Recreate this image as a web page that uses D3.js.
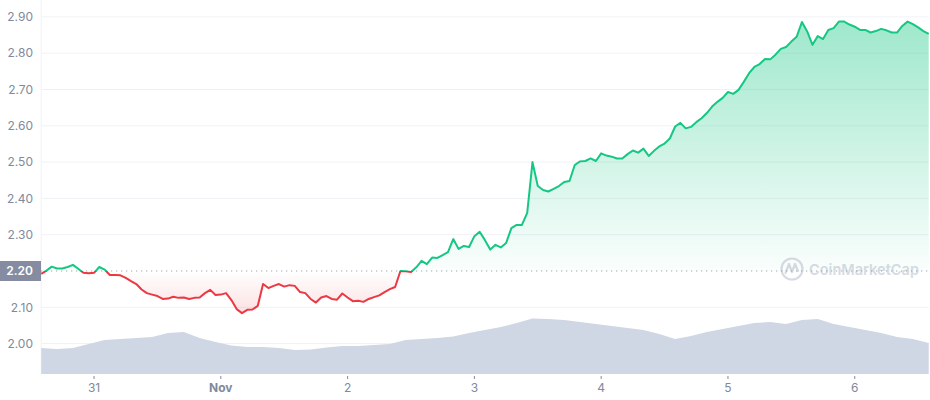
<!DOCTYPE html>
<html>
<head>
<meta charset="utf-8">
<script src="https://cdn.jsdelivr.net/npm/d3@7"></script>
<style>
  body { margin: 0; background: #fff; }
  svg { display: block; font-family: Inter, "Liberation Sans", Arial, sans-serif; }
</style>
</head>
<body>
<div class="chart"></div>
<script>
// price chart, hourly closes from Oct 30 14:00 to Nov 6 14:00
var w = 930, h = 400;

var startTime = new Date(2021, 9, 30, 14);
var baseline = 2.20;

var prices = [
  2.192, 2.201, 2.212, 2.207, 2.207, 2.211, 2.217, 2.206, 2.195, 2.194,
  2.195, 2.211, 2.204, 2.189, 2.189, 2.188, 2.181, 2.172, 2.164, 2.149,
  2.139, 2.135, 2.131, 2.123, 2.124, 2.129, 2.126, 2.127, 2.123, 2.126,
  2.127, 2.139, 2.148, 2.134, 2.135, 2.139, 2.120, 2.095, 2.084, 2.093,
  2.094, 2.104, 2.164, 2.153, 2.159, 2.164, 2.157, 2.161, 2.159, 2.142,
  2.139, 2.123, 2.113, 2.127, 2.131, 2.123, 2.121, 2.138, 2.127, 2.117,
  2.118, 2.115, 2.123, 2.128, 2.133, 2.142, 2.150, 2.156, 2.200, 2.199,
  2.197, 2.210, 2.228, 2.219, 2.237, 2.236, 2.244, 2.252, 2.288, 2.261,
  2.269, 2.266, 2.296, 2.308, 2.285, 2.259, 2.272, 2.265, 2.277, 2.318,
  2.327, 2.327, 2.360, 2.500, 2.434, 2.423, 2.419, 2.426, 2.434, 2.445,
  2.448, 2.492, 2.502, 2.503, 2.510, 2.503, 2.524, 2.518, 2.515, 2.510,
  2.510, 2.522, 2.532, 2.526, 2.537, 2.517, 2.531, 2.543, 2.551, 2.565,
  2.598, 2.608, 2.593, 2.597, 2.610, 2.621, 2.635, 2.653, 2.666, 2.677,
  2.693, 2.688, 2.699, 2.721, 2.745, 2.762, 2.770, 2.784, 2.783, 2.796,
  2.812, 2.817, 2.832, 2.845, 2.886, 2.860, 2.823, 2.847, 2.839, 2.864,
  2.869, 2.887, 2.887, 2.879, 2.873, 2.864, 2.864, 2.857, 2.861, 2.867,
  2.863, 2.857, 2.857, 2.875, 2.887, 2.880, 2.871, 2.861, 2.853
];

// volume every 3 hours (millions)
var volumes = [
  260, 250, 260, 300, 340, 350, 360, 370, 410, 420,
  360, 320, 285, 270, 270, 260, 240, 245, 265, 280,
  280, 290, 300, 340, 350, 360, 375, 410, 440, 470,
  510, 555, 550, 540, 520, 500, 480, 460, 440, 400,
  350, 380, 420, 450, 480, 510, 520, 500, 540, 550,
  500, 470, 440, 410, 370, 350, 310
];

var yTicks = [2.00, 2.10, 2.20, 2.30, 2.40, 2.50, 2.60, 2.70, 2.80, 2.90];
var xTicks = [
  new Date(2021, 9, 31), new Date(2021, 10, 1), new Date(2021, 10, 2),
  new Date(2021, 10, 3), new Date(2021, 10, 4), new Date(2021, 10, 5),
  new Date(2021, 10, 6)
];

var priceData = prices.map(function(p, i) {
  return { t: d3.timeHour.offset(startTime, i), v: p };
});
var volData = volumes.map(function(v, i) {
  return { t: d3.timeHour.offset(startTime, i * 3), v: v };
});

var left = 41.2, right = 928.7, bottom = 374;

var x = d3.scaleTime()
  .domain([startTime, d3.timeHour.offset(startTime, 168)])
  .range([left, right]);
var y = d3.scaleLinear().domain([2.0, 2.9]).range([343.6, 16.9]);
var yVol = d3.scaleLinear().domain([0, 1000]).range([bottom, bottom - 100]);

var svg = d3.select('.chart').append('svg')
  .attr('width', w)
  .attr('height', h);

var defs = svg.append('defs');

var gGreen = defs.append('linearGradient')
  .attr('id', 'gradGreen')
  .attr('gradientUnits', 'userSpaceOnUse')
  .attr('x1', 0).attr('x2', 0)
  .attr('y1', y(2.9)).attr('y2', y(baseline));
gGreen.append('stop').attr('offset', 0).attr('stop-color', '#16c784').attr('stop-opacity', 0.42);
gGreen.append('stop').attr('offset', 1).attr('stop-color', '#16c784').attr('stop-opacity', 0.02);

var gRed = defs.append('linearGradient')
  .attr('id', 'gradRed')
  .attr('gradientUnits', 'userSpaceOnUse')
  .attr('x1', 0).attr('x2', 0)
  .attr('y1', y(baseline)).attr('y2', y(2.08));
gRed.append('stop').attr('offset', 0).attr('stop-color', '#ea3943').attr('stop-opacity', 0.0);
gRed.append('stop').attr('offset', 1).attr('stop-color', '#ea3943').attr('stop-opacity', 0.16);

defs.append('clipPath').attr('id', 'clipAbove')
  .append('rect')
  .attr('x', 0).attr('y', 0)
  .attr('width', w).attr('height', y(baseline));
defs.append('clipPath').attr('id', 'clipBelow')
  .append('rect')
  .attr('x', 0).attr('y', y(baseline))
  .attr('width', w).attr('height', h - y(baseline));

// grid
svg.append('g')
  .selectAll('line')
  .data(yTicks.filter(function(d) { return d != baseline; }))
  .enter().append('line')
  .attr('x1', left).attr('x2', right)
  .attr('y1', function(d) { return y(d); })
  .attr('y2', function(d) { return y(d); })
  .attr('stroke', '#eff2f5')
  .attr('stroke-width', 1);

svg.append('line')
  .attr('x1', left).attr('x2', left)
  .attr('y1', 0).attr('y2', bottom)
  .attr('stroke', '#eff2f5');

// volume
svg.append('path')
  .datum(volData)
  .attr('fill', '#cfd6e4')
  .attr('d', d3.area()
    .x(function(d) { return x(d.t); })
    .y0(bottom)
    .y1(function(d) { return yVol(d.v); }));

// watermark
var wm = svg.append('g').attr('transform', 'translate(792,269)').attr('opacity', 0.9);
wm.append('circle').attr('r', 10.5).attr('fill', 'none').attr('stroke', '#d3d8e0').attr('stroke-width', 2.2);
wm.append('path')
  .attr('d', 'M-6.5,4 L-3,-5 L0,3 L3,-5 L6,2')
  .attr('fill', 'none').attr('stroke', '#d3d8e0').attr('stroke-width', 2.2)
  .attr('stroke-linejoin', 'round').attr('stroke-linecap', 'round');
wm.append('text')
  .attr('x', 17).attr('y', 5.5)
  .attr('font-size', 15)
  .attr('font-weight', 600)
  .attr('textLength', 110)
  .attr('lengthAdjust', 'spacingAndGlyphs')
  .attr('fill', '#d3d8e0')
  .text('CoinMarketCap');

// areas
var area = d3.area()
  .x(function(d) { return x(d.t); })
  .y0(y(baseline))
  .y1(function(d) { return y(d.v); });

svg.append('path').datum(priceData)
  .attr('clip-path', 'url(#clipAbove)')
  .attr('fill', 'url(#gradGreen)')
  .attr('d', area);
svg.append('path').datum(priceData)
  .attr('clip-path', 'url(#clipBelow)')
  .attr('fill', 'url(#gradRed)')
  .attr('d', area);

// baseline
svg.append('line')
  .attr('x1', left).attr('x2', right)
  .attr('y1', y(baseline)).attr('y2', y(baseline))
  .attr('stroke', '#8a93a6')
  .attr('stroke-width', 1)
  .attr('stroke-dasharray', '1,4');

// price line
var line = d3.line()
  .x(function(d) { return x(d.t); })
  .y(function(d) { return y(d.v); });

svg.append('path').datum(priceData)
  .attr('clip-path', 'url(#clipAbove)')
  .attr('fill', 'none')
  .attr('stroke', '#16c784')
  .attr('stroke-width', 2)
  .attr('stroke-linejoin', 'round')
  .attr('d', line);
svg.append('path').datum(priceData)
  .attr('clip-path', 'url(#clipBelow)')
  .attr('fill', 'none')
  .attr('stroke', '#ea3943')
  .attr('stroke-width', 2)
  .attr('stroke-linejoin', 'round')
  .attr('d', line);

// y labels
svg.append('g')
  .selectAll('text')
  .data(yTicks.filter(function(d) { return d != baseline; }))
  .enter().append('text')
  .attr('x', 33)
  .attr('y', function(d) { return y(d); })
  .attr('dy', '0.35em')
  .attr('text-anchor', 'end')
  .attr('font-size', 12)
  .attr('fill', '#808a9d')
  .text(function(d) { return d.toFixed(2); });

// baseline label
svg.append('rect')
  .attr('x', 0).attr('y', y(baseline) - 10)
  .attr('width', 41).attr('height', 20)
  .attr('fill', '#858ca2');
svg.append('text')
  .attr('x', 33).attr('y', y(baseline))
  .attr('dy', '0.35em')
  .attr('text-anchor', 'end')
  .attr('font-size', 12)
  .attr('font-weight', 600)
  .attr('fill', '#fff')
  .text(baseline.toFixed(2));

// x axis
var xa = svg.append('g')
  .selectAll('g')
  .data(xTicks)
  .enter().append('g')
  .attr('transform', function(d) { return 'translate(' + x(d) + ',0)'; });
xa.append('line')
  .attr('y1', bottom + 2).attr('y2', bottom + 5)
  .attr('stroke', '#808a9d');
xa.append('text')
  .attr('y', 392)
  .attr('text-anchor', 'middle')
  .attr('font-size', 12)
  .attr('font-weight', function(d) { return d.getDate() == 1 ? 700 : 400; })
  .attr('fill', '#808a9d')
  .text(function(d) { return d.getDate() == 1 ? d3.timeFormat('%b')(d) : d.getDate(); });
</script>
</body>
</html>
